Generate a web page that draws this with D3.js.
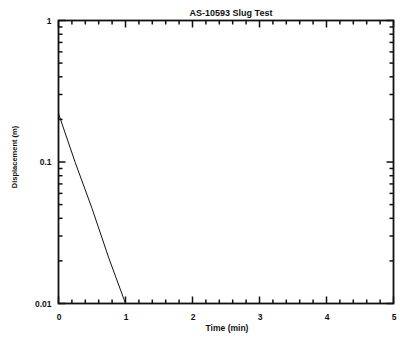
<!DOCTYPE html>
<html>
<head>
<meta charset="utf-8">
<script src="https://cdn.jsdelivr.net/npm/d3@7/dist/d3.min.js"></script>
<style>
  html, body { margin: 0; padding: 0; background: #fff; }
  svg { display: block; }
  text { font-family: "Liberation Sans", Arial, sans-serif; fill: #111; }
</style>
</head>
<body>
<svg id="chart" width="400" height="338"></svg>
<script>
// Slug test record: displacement vs. elapsed time
const timeMin = [0, 0.25, 0.5, 0.75, 1.0];
const displacementM = [0.22, 0.099, 0.047, 0.021, 0.01];

const xTicks = [0, 1, 2, 3, 4, 5];
const yTicks = [1, 0.1, 0.01];
const yTickLabels = ["1", "0.1", "0.01"];

const title = "AS-10593 Slug Test";
const xTitle = "Time (min)";
const yTitle = "Displacement (m)";

const svg = d3.select("#chart");
const m = { left: 58.5, right: 393.5, top: 20.5, bottom: 303.5 };

const x = d3.scaleLinear().domain([0, 5]).range([m.left, m.right]);
const y = d3.scaleLog().domain([0.01, 1]).range([m.bottom, m.top]);

const ink = "#111";
const majorLen = 7, minorLen = 4;

// minor tick positions
const xMinor = d3.range(0, 5.0001, 0.2).filter(v => Math.abs(v - Math.round(v)) > 1e-6);
const yMinor = [];
[0.01, 0.1].forEach(d => { for (let k = 2; k <= 9; k++) yMinor.push(d * k); });

// frame
svg.append("rect")
  .attr("x", m.left).attr("y", m.top)
  .attr("width", m.right - m.left).attr("height", m.bottom - m.top)
  .attr("fill", "none").attr("stroke", ink).attr("stroke-width", 1.8);

// inward tick marks on all four sides
const tickG = svg.append("g").attr("stroke", ink).attr("stroke-width", 1.5);
function xTickMarks(vals, len) {
  tickG.selectAll(null).data(vals).join("line")
    .attr("x1", d => x(d)).attr("x2", d => x(d))
    .attr("y1", m.bottom).attr("y2", m.bottom - len);
  tickG.selectAll(null).data(vals).join("line")
    .attr("x1", d => x(d)).attr("x2", d => x(d))
    .attr("y1", m.top).attr("y2", m.top + len);
}
function yTickMarks(vals, len) {
  tickG.selectAll(null).data(vals).join("line")
    .attr("y1", d => y(d)).attr("y2", d => y(d))
    .attr("x1", m.left).attr("x2", m.left + len);
  tickG.selectAll(null).data(vals).join("line")
    .attr("y1", d => y(d)).attr("y2", d => y(d))
    .attr("x1", m.right).attr("x2", m.right - len);
}
xTickMarks(xTicks, majorLen);
xTickMarks(xMinor, minorLen);
yTickMarks(yTicks, majorLen);
yTickMarks(yMinor, minorLen);

// tick labels
svg.append("g").attr("transform", `translate(0,${m.bottom})`)
  .call(d3.axisBottom(x).tickValues(xTicks).tickSize(0).tickPadding(10).tickFormat(d3.format("d")))
  .call(g => g.select(".domain").remove())
  .call(g => g.selectAll("text").attr("font-size", 8.5).attr("font-weight", "bold"));

svg.append("g").attr("transform", `translate(${m.left},0)`)
  .call(d3.axisLeft(y).tickValues(yTicks).tickSize(0).tickPadding(7)
    .tickFormat((d, i) => yTickLabels[i]))
  .call(g => g.select(".domain").remove())
  .call(g => g.selectAll("text").attr("font-size", 8.5).attr("font-weight", "bold"));

// data line
const pts = timeMin.map((t, i) => [t, displacementM[i]]);
svg.append("path")
  .datum(pts)
  .attr("fill", "none")
  .attr("stroke", ink)
  .attr("stroke-width", 1)
  .attr("d", d3.line().x(d => x(d[0])).y(d => y(d[1])));

// titles
svg.append("text")
  .attr("x", 231).attr("y", 16)
  .attr("text-anchor", "middle")
  .attr("font-size", 9).attr("font-weight", "bold")
  .text(title);

svg.append("text")
  .attr("x", 227).attr("y", 331)
  .attr("text-anchor", "middle")
  .attr("font-size", 8.5).attr("font-weight", "bold")
  .text(xTitle);

svg.append("text")
  .attr("transform", "translate(17,157) rotate(-90)")
  .attr("text-anchor", "middle")
  .attr("font-size", 7.5).attr("font-weight", "bold")
  .text(yTitle);
</script>
</body>
</html>
